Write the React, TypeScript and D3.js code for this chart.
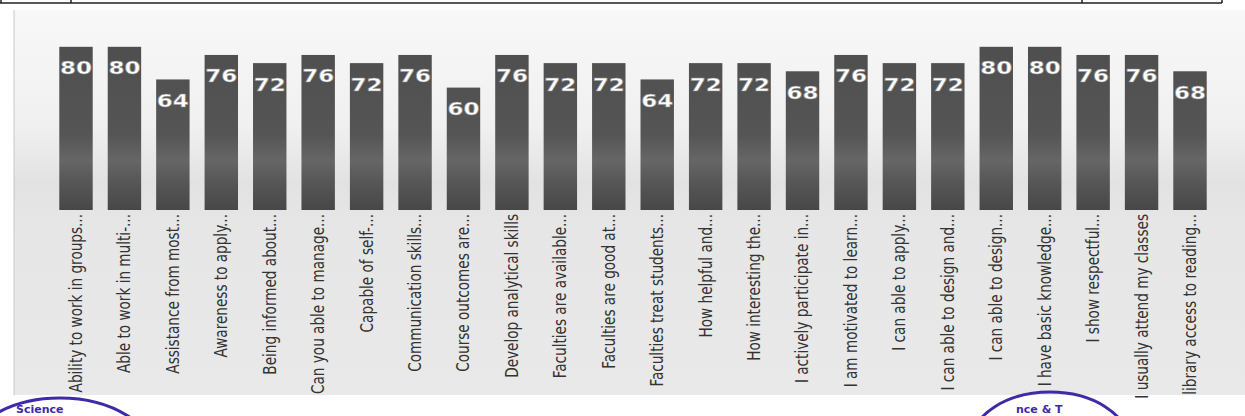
import React from "react";
import * as d3 from "d3";

const categories: string[] = [
  "Ability to work in groups...",
  "Able to work in multi-...",
  "Assistance from most...",
  "Awareness to apply...",
  "Being informed about...",
  "Can you able to manage...",
  "Capable of self-...",
  "Communication skills...",
  "Course outcomes are...",
  "Develop analytical skills",
  "Faculties are available...",
  "Faculties are good at...",
  "Faculties treat students...",
  "How helpful and...",
  "How interesting the...",
  "I actively participate in...",
  "I am motivated to learn...",
  "I can able to apply...",
  "I can able to design and...",
  "I can able to design...",
  "I have basic knowledge...",
  "I show respectful...",
  "I usually attend my classes",
  "library access to reading...",
];

const values: number[] = [
  80, 80, 64, 76, 72, 76, 72, 76, 60, 76, 72, 72, 64, 72, 72, 68, 76, 72, 72, 80, 80, 76, 76, 68,
];

const W = 1245;
const H = 416;

export default function App() {
  const step = (1190 - 76) / (categories.length - 1);
  const x = d3
    .scaleBand<string>()
    .domain(categories)
    .range([76 - step / 2, 1190 + step / 2])
    .paddingInner(0.31)
    .paddingOuter(0.155);
  const y = d3.scaleLinear().domain([0, 100]).range([210, 6]);
  const baseY = y(0);

  return (
    <svg
      width={W}
      height={H}
      viewBox={`0 0 ${W} ${H}`}
      style={{ position: "absolute", left: 0, top: 0, display: "block", background: "#fff" }}
    >
      <defs>
        <linearGradient id="bg" gradientUnits="userSpaceOnUse" x1="0" y1="10" x2="0" y2="395">
          <stop offset="0" stopColor="#f8f8f8" />
          <stop offset="0.3" stopColor="#f0f0f0" />
          <stop offset="0.45" stopColor="#e2e2e2" />
          <stop offset="0.55" stopColor="#e6e6e6" />
          <stop offset="1" stopColor="#e9e9e9" />
        </linearGradient>
        <linearGradient id="bar" gradientUnits="userSpaceOnUse" x1="0" y1="40" x2="0" y2="212">
          <stop offset="0" stopColor="#4e4e4e" />
          <stop offset="0.55" stopColor="#555" />
          <stop offset="0.7" stopColor="#666" />
          <stop offset="0.82" stopColor="#575757" />
          <stop offset="1" stopColor="#464646" />
        </linearGradient>
      </defs>

      {/* table remnants at top */}
      <g stroke="#222" strokeWidth={1.5} fill="none">
        <line x1={0} y1={3} x2={1222} y2={3} />
        <line x1={1} y1={0} x2={1} y2={3} />
        <line x1={71} y1={0} x2={71} y2={3} />
        <line x1={1082} y1={0} x2={1082} y2={3} />
        <line x1={1222} y1={0} x2={1222} y2={3} />
      </g>

      {/* chart background */}
      <rect x={14} y={10} width={W - 14} height={385} fill="url(#bg)" />
      <line x1={14} y1={10} x2={14} y2={395} stroke="#c8c8c8" strokeWidth={1} />

      {/* bars */}
      {categories.map((c, i) => (
        <rect
          key={c}
          x={x(c)}
          y={y(values[i])}
          width={x.bandwidth()}
          height={baseY - y(values[i])}
          fill="url(#bar)"
        />
      ))}

      {/* value labels */}
      {categories.map((c, i) => (
        <text
          key={"v" + c}
          x={(x(c) as number) + x.bandwidth() / 2}
          y={y(values[i]) + 27.5}
          textAnchor="middle"
          fontFamily="DejaVu Sans"
          fontWeight="bold"
          fontSize={18}
          fill="#fff"
          stroke="#8a8a8a"
          strokeWidth={0.5}
          textLength={32}
          lengthAdjust="spacingAndGlyphs"
        >
          {values[i]}
        </text>
      ))}

      {/* category labels */}
      {categories.map((c) => {
        const cx = (x(c) as number) + x.bandwidth() / 2;
        return (
          <text
            key={"l" + c}
            transform={`translate(${cx},${baseY + 4}) rotate(-90) scale(0.89,1)`}
            textAnchor="end"
            dy="0.35em"
            fontFamily="'DejaVu Sans Condensed', 'DejaVu Sans', sans-serif"
            fontSize={17}
            fill="#333"
          >
            {c}
          </text>
        );
      })}

      {/* stamps */}
      <g fill="none" stroke="#3f2aa8" strokeWidth={3}>
        <ellipse cx={60} cy={458} rx={95} ry={60} />
        <ellipse cx={1050} cy={442} rx={78} ry={50} />
      </g>
      <text x={16} y={413} fontFamily="DejaVu Sans" fontWeight="bold" fontSize={11} fill="#3f2aa8">
        Science
      </text>
      <text x={1016} y={413} fontFamily="DejaVu Sans" fontWeight="bold" fontSize={11} fill="#3f2aa8">
        nce &amp; T
      </text>
    </svg>
  );
}
